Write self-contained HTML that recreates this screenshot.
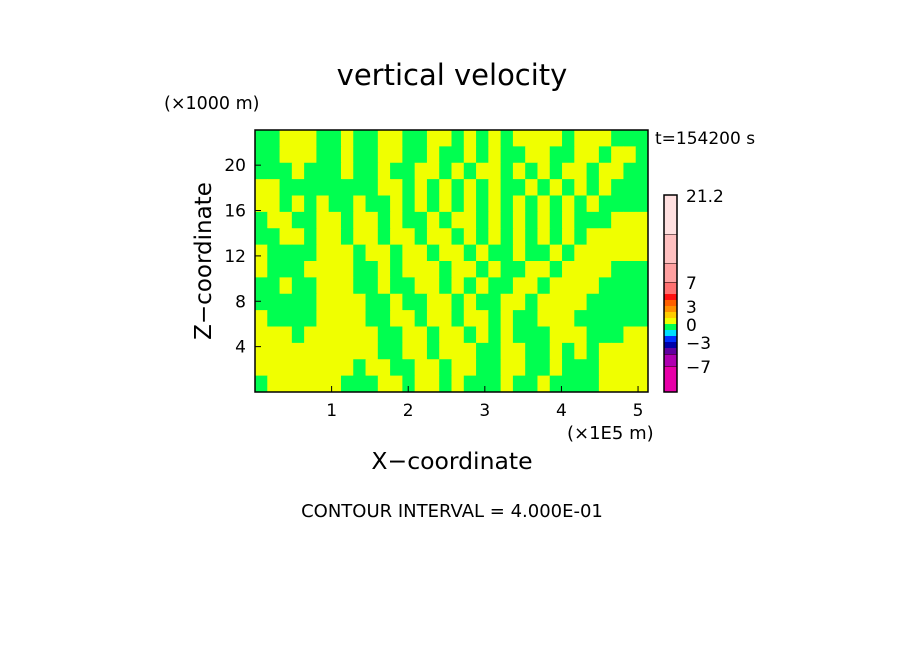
<!DOCTYPE html>
<html><head><meta charset="utf-8"><style>
html,body{margin:0;padding:0;background:#fff;}
svg{display:block;font-family:"DejaVu Sans","Liberation Sans",sans-serif;}
</style></head><body>
<svg id="chart" width="904" height="654" viewBox="0 0 904 654">
<text x="452" y="85" font-size="29" text-anchor="middle">vertical velocity</text>
<text x="164" y="109" font-size="17.5">(×1000 m)</text>
<text x="655" y="144" font-size="17">t=154200 s</text>
<g id="field"></g>
<rect x="255" y="130" width="393" height="262" fill="none" stroke="#000" stroke-width="1.5"/>
<g id="xticks"></g>
<g id="yticks"></g>
<text x="567" y="439" font-size="18">(×1E5 m)</text>
<text x="452" y="469" font-size="23.5" text-anchor="middle">X−coordinate</text>
<text x="0" y="0" font-size="23" text-anchor="middle" transform="translate(211,261) rotate(-90)">Z−coordinate</text>
<g id="cbar"></g>
<text x="452" y="517" font-size="18" text-anchor="middle">CONTOUR INTERVAL = 4.000E-01</text>
</svg>
<script>
var xTicks=[1,2,3,4,5];
var yTicks=[4,8,12,16,20];
var xMax=5.13, zMax=23.1;
var levelColors=["#e800a8","#b000b0","#6000a0","#0000a8","#0030ff","#00e0ff","#00ff50","#f0ff00","#ffcc00","#ff9000","#ff6000","#ff1010","#ff7070","#ffa0a0","#ffc0c0","#ffe0e0"];
var levelBounds=[-10.6,-7,-6,-5,-3,-2,-0.4,0,0.4,1.5,3,4,5.5,7,10,14,21.2];
var cbarLabels=["21.2","7","3","0","−3","−7"];
var cbarLabelVals=[21.2,7,3,0,-3,-7];
var fieldRows=[
"GGYYYGGYGGYYGGYYGYGYGYYYYGYYYGGG",
"GGYYYGGYGGYYGGYGGYGYGGYYGGYYGYYG",
"GGGYGGGYGGYGGYYGYGYYGYGYGYYGYYGG",
"YYGGGGGGGGYYGYGYGYGYGGYGYGYGYGGG",
"YYGYGYGGYGGYGYGYGYGYGYGYGYGYGGGG",
"GYYGGYYGYYGYGGYGYYGYGYGYGYGGGYYY",
"GGYYGYYGYYGYYGYYGYGYGYGYGYGYYYYY",
"YGGGGYYYGYYGYYGYYGYGGYGGYGYYYYYY",
"YGGGYYYYGGYGYYYGYYGYGGYYGYYYYGGG",
"GGYGGYYYGGYGGYYGYGYGGYYGYYYYGGGG",
"GGGGGYYYYGGYGGYYGYGGYYGYYYYGGGGG",
"YGGGGYYYYGGYYGYYGYYGYGGYYYGGGGGG",
"YYYGYYYYYYGGYYGYYGYGYGGGYYYGGGYY",
"YYYYYYYYYYGGYYGYYYGGYYGGYGYGYYYY",
"YYYYYYYYGYYGGYYGYYGGYYGGYGGGYYYY",
"GYYYYYYGGGYYGYYGYGGGYGGYGGGGYYYY"];
var fieldValue={Y:0.2,G:-0.2};
var NS="http://www.w3.org/2000/svg";
var PX0=255,PX1=648,PY0=392,PY1=130;
function sx(v){return PX0+v/xMax*(PX1-PX0);}
function sz(v){return PY0-v/zMax*(PY0-PY1);}
function colorFor(v){for(var i=0;i<levelColors.length;i++){if(v<levelBounds[i+1])return levelColors[i];}return levelColors[levelColors.length-1];}
var nr=fieldRows.length,nc=fieldRows[0].length;
var fg=document.getElementById('field');
for(var r=0;r<nr;r++){for(var c=0;c<nc;c++){
 var v=fieldValue[fieldRows[r][c]];
 var x0=sx(c*xMax/nc),x1=sx((c+1)*xMax/nc),y0=sz(zMax-r*zMax/nr),y1=sz(zMax-(r+1)*zMax/nr);
 var el=document.createElementNS(NS,'rect');
 
 
 el.setAttribute('x',x0);el.setAttribute('y',y0);el.setAttribute('width',x1-x0+0.5);el.setAttribute('height',y1-y0+0.5);
 el.setAttribute('fill',colorFor(v));fg.appendChild(el);}}
var xg=document.getElementById('xticks');
xTicks.forEach(function(t){
 var l=document.createElementNS(NS,'line');
 
 
 l.setAttribute('x1',sx(t));l.setAttribute('x2',sx(t));l.setAttribute('y1',392);l.setAttribute('y2',386);l.setAttribute('stroke','#000');xg.appendChild(l);
 var tx=document.createElementNS(NS,'text');
 
 
 tx.setAttribute('x',sx(t));tx.setAttribute('y',416);tx.setAttribute('font-size','17');tx.setAttribute('text-anchor','middle');tx.textContent=t;xg.appendChild(tx);});
var yg=document.getElementById('yticks');
yTicks.forEach(function(t){
 var l=document.createElementNS(NS,'line');
 
 
 l.setAttribute('x1',255);l.setAttribute('x2',261);l.setAttribute('y1',sz(t));l.setAttribute('y2',sz(t));l.setAttribute('stroke','#000');yg.appendChild(l);
 var tx=document.createElementNS(NS,'text');
 
 
 tx.setAttribute('x',246);tx.setAttribute('y',sz(t)+6);tx.setAttribute('font-size','17');tx.setAttribute('text-anchor','end');tx.textContent=t;yg.appendChild(tx);});
var segPix=[26,12,6,6,6,6,6,6,6,6,6,6,12,19,29,39];
var cg=document.getElementById('cbar');var cy=392;var segY=[];
for(var i=0;i<levelColors.length;i++){
 var h=segPix[i];cy-=h;segY.push(cy);
 var s=document.createElementNS(NS,'rect');
 
 
 s.setAttribute('x',664);s.setAttribute('y',cy);s.setAttribute('width',13);s.setAttribute('height',h);s.setAttribute('fill',levelColors[i]);cg.appendChild(s);
 var sep=document.createElementNS(NS,'line');
 
 
 sep.setAttribute('x1',664);sep.setAttribute('x2',677);sep.setAttribute('y1',cy);sep.setAttribute('y2',cy);sep.setAttribute('stroke',h>10?'#000':'none');sep.setAttribute('stroke-width','1');cg.appendChild(sep);}
var fr=document.createElementNS(NS,'rect');


fr.setAttribute('x',664);fr.setAttribute('y',cy);fr.setAttribute('width',13);fr.setAttribute('height',392-cy);fr.setAttribute('fill','none');fr.setAttribute('stroke','#000');fr.setAttribute('stroke-width','1.5');cg.appendChild(fr);
function cbY(v){for(var i=0;i<levelColors.length;i++){if(v<=levelBounds[i+1]){var f=(v-levelBounds[i])/(levelBounds[i+1]-levelBounds[i]);return segY[i]+segPix[i]*(1-f);}}return cy;}
cbarLabels.forEach(function(lb,i){
 var tx=document.createElementNS(NS,'text');
 
 
 tx.setAttribute('x',686);tx.setAttribute('y',cbY(cbarLabelVals[i])+7);tx.setAttribute('font-size','17');tx.textContent=lb;cg.appendChild(tx);});
</script>
</body></html>
